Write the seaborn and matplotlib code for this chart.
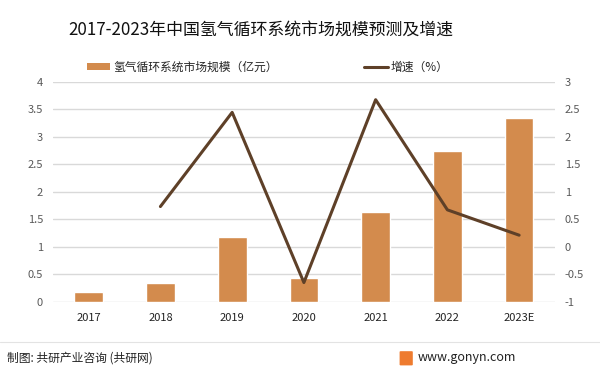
import matplotlib
matplotlib.use("Agg")
import matplotlib.pyplot as plt
from matplotlib.lines import Line2D
from matplotlib.patches import Patch, FancyBboxPatch
import numpy as np
import pandas as pd
import seaborn as sns

# data
years = ["2017", "2018", "2019", "2020", "2021", "2022", "2023E"]
market_size = [0.18, 0.35, 1.18, 0.43, 1.63, 2.74, 3.34]  # 亿元
growth = [np.nan, 0.73, 2.44, -0.65, 2.67, 0.67, 0.21]     # 增速

left_ticks = [0, 0.5, 1, 1.5, 2, 2.5, 3, 3.5, 4]
right_ticks = [-1, -0.5, 0, 0.5, 1, 1.5, 2, 2.5, 3]

BAR = "#D38B4D"
LINE = "#5E4028"
GRID = "#D9D9D9"
TICK = "#595959"

sns.set_theme(style="white")
plt.rcParams["font.family"] = ["Noto Sans CJK SC", "DejaVu Sans"]

df = pd.DataFrame({"year": years, "size": market_size, "growth": growth})
df["pos"] = np.arange(len(years))

fig = plt.figure(figsize=(6, 3.74), dpi=100)
ax = fig.add_axes([0.088, 0.193, 0.837, 0.589])

sns.barplot(data=df, x="year", y="size", color=BAR, width=0.4,
            saturation=1, ax=ax, zorder=2)
ax.set_ylim(0, 4)
ax.set_xlim(-0.5, len(years) - 0.5)
ax.set_yticks(left_ticks)
ax.set_yticklabels([f"{t:g}" for t in left_ticks])
ax.yaxis.grid(True, color=GRID, linewidth=1)
ax.set_axisbelow(True)
ax.set_xlabel("")
ax.set_ylabel("")
for s in ax.spines.values():
    s.set_visible(False)
ax.tick_params(axis="y", colors=TICK, labelsize=8, length=0, pad=7)
ax.tick_params(axis="x", colors="#222222", labelsize=8, length=0, pad=8)

ax2 = ax.twinx()
sns.lineplot(data=df.dropna(), x="pos", y="growth", color=LINE,
             linewidth=2.2, ax=ax2, zorder=3)
ax2.set_ylim(-1, 3)
ax2.set_yticks(right_ticks)
ax2.set_yticklabels([f"{t:g}" for t in right_ticks])
ax2.set_xlabel("")
ax2.set_ylabel("")
for s in ax2.spines.values():
    s.set_visible(False)
ax2.tick_params(axis="y", colors=TICK, labelsize=8, length=0, pad=7)

fig.text(0.435, 0.92, "2017-2023年中国氢气循环系统市场规模预测及增速",
         ha="center", va="center", fontsize=12.2, color="#111111")

handles = [Patch(facecolor=BAR, edgecolor="none"),
           Line2D([0], [0], color=LINE, linewidth=2.2)]
labels = ["氢气循环系统市场规模（亿元）", "增速（%）"]
fig.legend(handles, labels, loc="center left", bbox_to_anchor=(0.127, 0.82),
           ncol=2, frameon=False, fontsize=8.5, handlelength=2.0,
           handleheight=0.5, handletextpad=0.25, columnspacing=7.3)

# footer
fig.add_artist(Line2D([0.0, 1.0], [0.086, 0.086], color="#E3E3E3",
                      linewidth=0.8, transform=fig.transFigure))
fig.text(0.012, 0.043, "制图: 共研产业咨询 (共研网)", ha="left", va="center",
         fontsize=8.5, color="#222222")
fig.add_artist(FancyBboxPatch((0.668, 0.025), 0.018, 0.034,
                              boxstyle="round,pad=0.002", facecolor="#EE7B2F",
                              edgecolor="none", transform=fig.transFigure))
fig.text(0.86, 0.043, "www.gonyn.com", ha="right", va="center",
         fontsize=9, color="#222222")

fig.savefig("out.png", dpi=100)
